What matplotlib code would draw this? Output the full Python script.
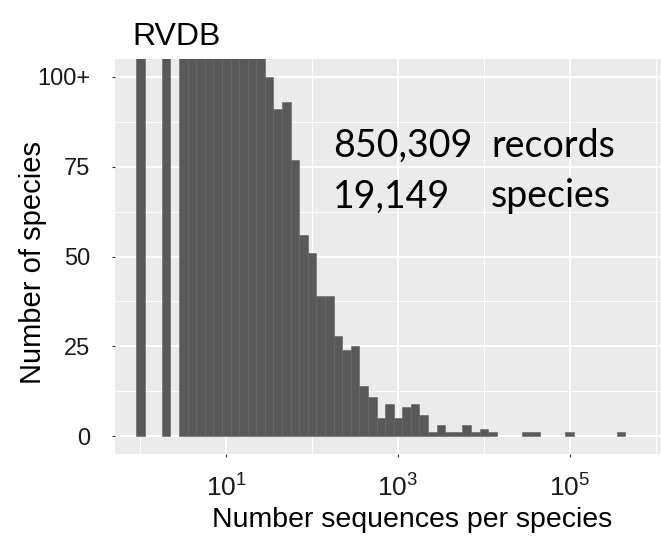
"""
Histogram of sequences per species in RVDB, log10-binned, y axis capped at 100+.
"""
import matplotlib
matplotlib.use("Agg")
import matplotlib.pyplot as plt
from matplotlib.ticker import FixedLocator, FixedFormatter
import numpy as np

# log10(sequences per species) bin centres, bin width 0.1 decade
bin_centres = [0.0, 0.3, 0.5, 0.6, 0.7, 0.8, 0.9, 1.0, 1.1, 1.2, 1.3, 1.4,
               1.5, 1.6, 1.7, 1.8, 1.9, 2.0, 2.1, 2.2, 2.3, 2.4, 2.5, 2.6,
               2.7, 2.8, 2.9, 3.0, 3.1, 3.2, 3.3, 3.4, 3.5, 3.6, 3.7, 3.8,
               3.9, 4.0, 4.1, 4.5, 4.6, 5.0, 5.6]
species_counts = [6800, 2900, 1600, 1200, 900, 1300, 550, 1000, 700, 500, 560, 432,
                  100, 91, 93, 77, 56, 51, 39, 39, 28, 24, 25, 14,
                  11, 5, 9, 5, 8, 9, 6, 1, 3, 1, 1, 3,
                  1, 2, 1, 1, 1, 1, 1]
bin_width = 0.1

y_ticks = [0, 25, 50, 75, 100]
y_tick_labels = ["0", "25", "50", "75", "100+"]
x_major = [1e1, 1e3, 1e5]
x_major_labels = [r"$\mathdefault{10^{1}}$", r"$\mathdefault{10^{3}}$", r"$\mathdefault{10^{5}}$"]
x_minor = [1e0, 1e2, 1e4, 1e6]

n_records = "850,309"
n_species = "19,149"

plt.rcParams["font.family"] = ["Liberation Sans", "DejaVu Sans"]

W, H = 661, 538
fig = plt.figure(figsize=(W / 100, H / 100), dpi=100)
left, right, top, bottom = 114.5, 661, 59, 454
pw, ph = right - left, bottom - top
ax = fig.add_axes([left / W, 1 - bottom / H, pw / W, ph / H])

c = np.array(bin_centres)
lo = 10 ** (c - bin_width / 2)
hi = 10 ** (c + bin_width / 2)
ax.bar(lo, species_counts, width=hi - lo, align="edge",
       color="#595959", edgecolor="#636363", linewidth=0.4, zorder=3)

ax.set_xscale("log")
ax.set_xlim(10 ** -0.302, 10 ** 6.064)
ax.set_ylim(-5, 105)

ax.set_facecolor("#EBEBEB")
for s in ax.spines.values():
    s.set_visible(False)

ax.xaxis.set_major_locator(FixedLocator(x_major))
ax.xaxis.set_major_formatter(FixedFormatter(x_major_labels))
ax.xaxis.set_minor_locator(FixedLocator(x_minor))
ax.xaxis.set_minor_formatter(FixedFormatter([]))
ax.set_yticks(y_ticks)
ax.set_yticklabels(y_tick_labels)
ax.yaxis.set_minor_locator(FixedLocator([12.5, 37.5, 62.5, 87.5]))

ax.grid(which="major", color="white", linewidth=1.4, zorder=0)
ax.grid(which="minor", color="white", linewidth=0.7, zorder=0)
ax.set_axisbelow(True)

ax.tick_params(which="major", length=2.5, width=0.8, color="#333333",
               labelcolor="#1a1a1a")
ax.tick_params(axis="y", which="major", pad=15, labelsize=17)
ax.tick_params(axis="x", which="major", pad=12, labelsize=19)
ax.tick_params(which="minor", length=0)

ax.set_xlabel("Number sequences per species", fontsize=20.5)
ax.xaxis.label.set_va("baseline")
ax.xaxis.set_label_coords((412 - left) / pw, (bottom - 527) / ph)
ax.set_ylabel("Number of species", fontsize=21)
ax.yaxis.set_label_coords((33 - left) / pw, (bottom - 262) / ph)
ax.yaxis.label.set_va("center")

fig.text(132 / W, 1 - 45 / H, "RVDB", fontsize=23, va="baseline", ha="left")

# summary annotation
ann = dict(fontsize=27, family=["Lato", "DejaVu Sans"], va="baseline", ha="left", color="black")
fig.text(333 / W, 1 - 156.7 / H, n_records, **ann)
fig.text(491 / W, 1 - 156.7 / H, "records", **ann)
fig.text(333 / W, 1 - 207.3 / H, n_species, **ann)
fig.text(491 / W, 1 - 207.3 / H, "species", **ann)

fig.savefig("out.png", dpi=100)
